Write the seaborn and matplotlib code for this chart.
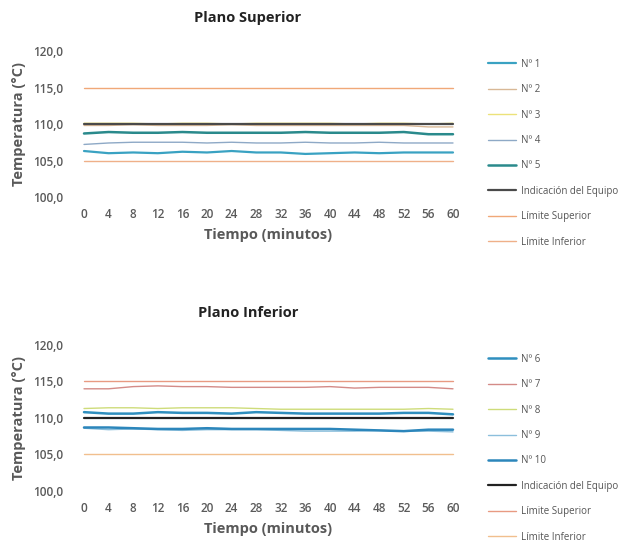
import matplotlib.pyplot as plt
import numpy as np
import pandas as pd
import seaborn as sns

sns.set_style("white")
plt.rcParams['font.family'] = ['Open Sans', 'DejaVu Sans']

## --- data (every 4 minutes)
minutos = [0, 4, 8, 12, 16, 20, 24, 28, 32, 36, 40, 44, 48, 52, 56, 60]

# Plano Superior
sup_n1 = [106.3, 106.0, 106.1, 106.0, 106.2, 106.1, 106.3, 106.1, 106.1, 105.9, 106.0, 106.1, 106.0, 106.1, 106.1, 106.1]
sup_n2 = [109.8, 109.8, 109.9, 109.8, 109.8, 109.8, 109.9, 109.8, 109.8, 109.8, 109.8, 109.8, 109.8, 109.8, 109.6, 109.6]
sup_n3 = [110.1, 110.1, 110.1, 110.0, 110.1, 110.1, 110.0, 110.1, 110.1, 110.1, 110.1, 110.0, 110.1, 110.1, 110.0, 110.1]
sup_n4 = [107.2, 107.4, 107.5, 107.5, 107.5, 107.4, 107.5, 107.4, 107.4, 107.5, 107.4, 107.4, 107.5, 107.4, 107.4, 107.4]
sup_n5 = [108.7, 108.9, 108.8, 108.8, 108.9, 108.8, 108.8, 108.8, 108.8, 108.9, 108.8, 108.8, 108.8, 108.9, 108.6, 108.6]
sup_ind = [110.0] * 16

# Plano Inferior
inf_n6 = [110.8, 110.6, 110.6, 110.8, 110.7, 110.7, 110.6, 110.8, 110.7, 110.6, 110.6, 110.6, 110.6, 110.7, 110.7, 110.5]
inf_n7 = [114.0, 114.0, 114.3, 114.4, 114.3, 114.3, 114.2, 114.2, 114.2, 114.2, 114.3, 114.1, 114.2, 114.2, 114.2, 114.0]
inf_n8 = [111.3, 111.4, 111.4, 111.3, 111.4, 111.4, 111.4, 111.3, 111.2, 111.2, 111.2, 111.2, 111.2, 111.2, 111.3, 111.2]
inf_n9 = [108.6, 108.4, 108.5, 108.4, 108.3, 108.4, 108.4, 108.4, 108.3, 108.2, 108.2, 108.2, 108.3, 108.2, 108.2, 108.1]
inf_n10 = [108.7, 108.7, 108.6, 108.5, 108.5, 108.6, 108.5, 108.5, 108.5, 108.5, 108.5, 108.4, 108.3, 108.2, 108.4, 108.4]
inf_ind = [110.0] * 16

lim_sup = [115.0] * 16
lim_inf = [105.0] * 16

y_ticks = [100, 105, 110, 115, 120]
x_ticks = minutos

## --- series: (label, values, colour, linewidth)
superior = [
    ('Nº 1', sup_n1, '#3aa2c2', 1.6),
    ('Nº 2', sup_n2, '#d8b896', 1.0),
    ('Nº 3', sup_n3, '#ece27a', 1.0),
    ('Nº 4', sup_n4, '#8ea9c6', 1.0),
    ('Nº 5', sup_n5, '#2a8a8c', 1.8),
    ('Indicación del Equipo', sup_ind, '#4a4a4a', 1.6),
    ('Límite Superior', lim_sup, '#f0a878', 1.0),
    ('Límite Inferior', lim_inf, '#efb089', 1.0),
]
inferior = [
    ('Nº 6', inf_n6, '#2f8fbf', 1.8),
    ('Nº 7', inf_n7, '#d48b88', 1.0),
    ('Nº 8', inf_n8, '#cedc7a', 1.0),
    ('Nº 9', inf_n9, '#8cbfdc', 1.0),
    ('Nº 10', inf_n10, '#2c86bb', 1.8),
    ('Indicación del Equipo', inf_ind, '#222222', 1.6),
    ('Límite Superior', lim_sup, '#e89a82', 1.0),
    ('Límite Inferior', lim_inf, '#f1bf8e', 1.0),
]

W, H = 621, 544
fig = plt.figure(figsize=(W / 100, H / 100), dpi=100)

def draw_panel(rect, series, title, title_y, legend_top):
    ax = fig.add_axes(rect)
    for label, vals, color, lw in series:
        df = pd.DataFrame({'Tiempo': minutos, 'Temp': vals})
        sns.lineplot(data=df, x='Tiempo', y='Temp', ax=ax, color=color,
                     linewidth=lw, label=label)
    ax.set_xlim(-2, 62)
    ax.set_ylim(100, 120)
    ax.set_xticks(x_ticks)
    ax.set_yticks(y_ticks)
    ax.set_yticklabels([('%.1f' % v).replace('.', ',') for v in y_ticks])
    ax.tick_params(axis='both', length=0, labelsize=8.5, labelcolor='#5a5a5a')
    for t in ax.get_xticklabels() + ax.get_yticklabels():
        t.set_fontweight('semibold')
    ax.tick_params(axis='x', pad=8)
    ax.tick_params(axis='y', pad=6)
    for s in ax.spines.values():
        s.set_visible(False)
    ax.set_xlabel('Tiempo (minutos)', fontsize=10.5, fontweight='bold',
                  color='#595959', labelpad=5)
    ax.set_ylabel('Temperatura (°C)', fontsize=10.5, fontweight='bold',
                  color='#595959', labelpad=5)
    fig.text(248 / W, 1 - title_y / H, title, ha='center', va='center',
             fontsize=10.5, fontweight='bold', color='#222222')
    ax.legend(loc='upper left', bbox_to_anchor=(484 / W, 1 - legend_top / H),
              bbox_transform=fig.transFigure, frameon=False, fontsize=7,
              labelcolor='#555555', handlelength=2.9, handletextpad=0.5,
              labelspacing=1.48, borderaxespad=0)
    return ax

## --- axes positions: x=0 at 84 px, x=60 at 453 px
left = 71.7 / W
width = 393.6 / W
draw_panel([left, 1 - 197 / H, width, 146 / H], superior,
           'Plano Superior', 18, 55)
draw_panel([left, 1 - 491 / H, width, 146 / H], inferior,
           'Plano Inferior', 313, 350)

plt.savefig('out.png', dpi=100)
